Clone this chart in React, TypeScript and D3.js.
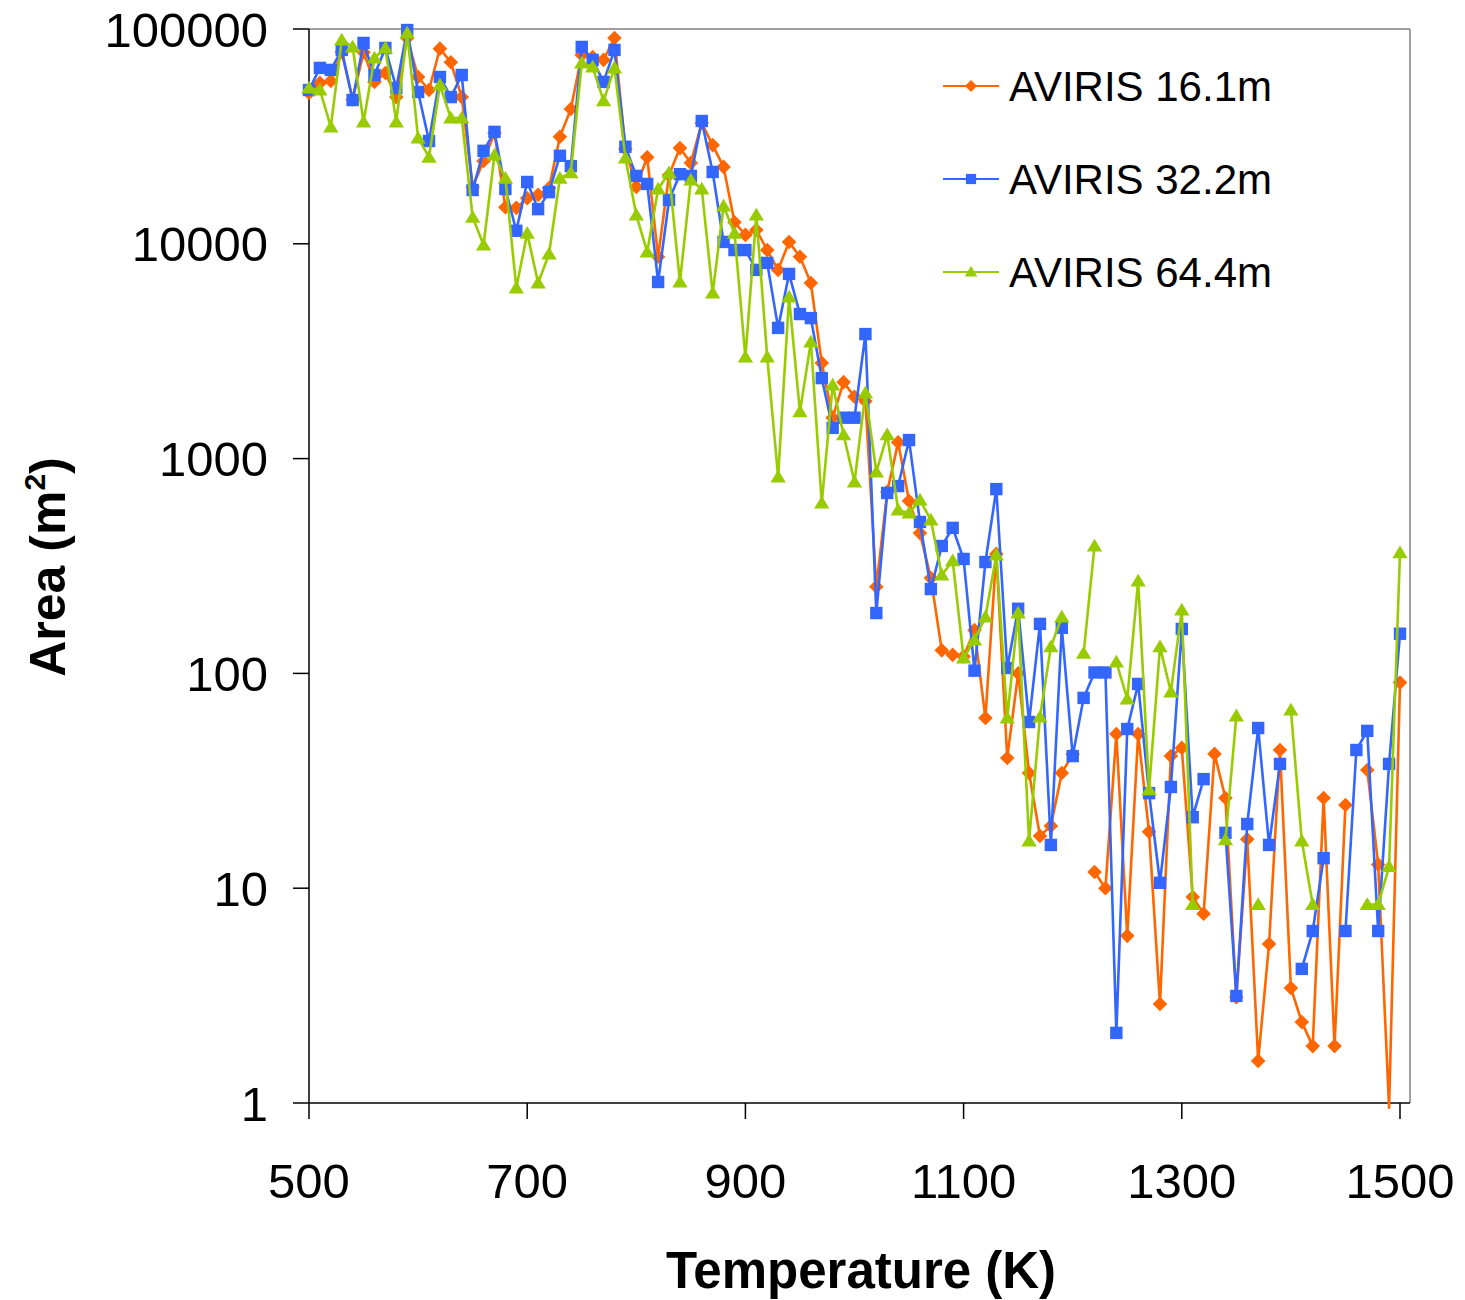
import React from 'react';
import * as d3 from 'd3';

const temperatures = [
  500, 510, 520, 530, 540, 550, 560, 570, 580, 590,
  600, 610, 620, 630, 640, 650, 660, 670, 680, 690,
  700, 710, 720, 730, 740, 750, 760, 770, 780, 790,
  800, 810, 820, 830, 840, 850, 860, 870, 880, 890,
  900, 910, 920, 930, 940, 950, 960, 970, 980, 990,
  1000, 1010, 1020, 1030, 1040, 1050, 1060, 1070, 1080, 1090,
  1100, 1110, 1120, 1130, 1140, 1150, 1160, 1170, 1180, 1190,
  1200, 1210, 1220, 1230, 1240, 1250, 1260, 1270, 1280, 1290,
  1300, 1310, 1320, 1330, 1340, 1350, 1360, 1370, 1380, 1390,
  1400, 1410, 1420, 1430, 1440, 1450, 1460, 1470, 1480, 1490,
  1500,
];

const aviris16 = [
  50400, 56100, 57300, 78000, 47000, 78000, 56700, 62400, 48200, 90800,
  59800, 52000, 81000, 70000, 48200, 18400, 24300, 32800, 14800, 14700,
  16300, 16900, 18200, 31500, 42400, 75700, 74100, 71800, 90800, 27600,
  18400, 25300, 8700, 20900, 27900, 23800, 36500, 28800, 22800, 12600,
  11000, 11600, 9350, 7560, 10200, 8700, 6570, 2790, 1550, 2270,
  1940, 1850, 253, 700, 1190, 635, 450, 278, 128, 122,
  120, 159, 62, 360, 40.4, 100, 34.4, 17.5, 19.5, 34.4,
  42, null, 11.9, 10.0, 52.2, 6.0, 52.2, 18.3, 2.89, 41.2,
  45.0, 9.1, 7.6, 42.2, 26.3, 3.11, 16.9, 1.57, 5.5, 44.0,
  3.43, 2.38, 1.84, 26.3, 1.84, 24.4, null, 35.5, 12.9, 0.95,
  90.6,
];

const aviris32 = [
  52000, 65900, 64500, 79900, 46700, 86100, 61100, 81600, 53100, 98900,
  50900, 30100, 59800, 48200, 61100, 17800, 27100, 33200, 18000, 11500,
  19400, 14500, 17400, 25700, 23000, 82500, 71800, 56700, 79900, 28300,
  20700, 19000, 6640, 16000, 21100, 20700, 37300, 21600, 10200, 9350,
  9350, 7560, 8150, 4060, 7240, 4710, 4510, 2370, 1390, 1550,
  1550, 3800, 191, 692, 745, 1220, 507, 247, 392, 476,
  341, 103, 330, 721, 106, 200, 59.4, 170, 15.9, 163,
  41.2, 76.9, 101, 101, 2.12, 55.1, 89.3, 27.7, 10.6, 29.6,
  161, 21.4, 32.2, null, 18.1, 3.15, 19.9, 55.7, 15.9, 37.9,
  null, 4.21, 6.32, 13.8, null, 6.32, 44.0, 54.0, 6.32, 37.9,
  153,
];

const aviris64 = [
  53100, 52000, 35000, 88900, 82500, 36900, 73300, 81600, 36900, 95800,
  31100, 25300, 54900, 38500, 38500, 13300, 9870, 25900, 20200, 6230,
  11200, 6570, 8970, 20200, 21400, 69500, 66500, 46300, 65900, 25100,
  13600, 9160, 18000, 21400, 6640, 19800, 18000, 5900, 15000, 11200,
  2970, 13600, 2970, 821, 5650, 1650, 3490, 621, 2200, 1290,
  778, 2020, 866, 1290, 576, 558, 642, 518, 287, 334,
  118, 143, 183, 356, 62.0, 191, 16.6, 62.7, 133, 183,
  null, 124, 392, null, 113, 76, 269, 28.7, 133, 82,
  197, 8.4, null, null, 16.8, 63.4, null, 8.4, null, null,
  67.6, 16.6, 8.4, null, null, null, null, 8.4, 8.4, 12.6,
  364,
];

const seriesNames = ['AVIRIS 16.1m', 'AVIRIS 32.2m', 'AVIRIS 64.4m'];
const seriesColors = ['#FF6600', '#3366FF', '#99CC00'];
const seriesMarkers = ['diamond', 'square', 'triangle'];
const seriesValues = [aviris16, aviris32, aviris64];

const xTicks = [500, 700, 900, 1100, 1300, 1500];
const yTicks = [1, 10, 100, 1000, 10000, 100000];

const FONT = '"Liberation Sans", Arial, Helvetica, sans-serif';

function markerPath(kind: string, s: number) {
  if (kind === 'diamond') return `M0,${-s}L${s},0L0,${s}L${-s},0Z`;
  if (kind === 'square') return `M${-s * 0.85},${-s * 0.85}H${s * 0.85}V${s * 0.85}H${-s * 0.85}Z`;
  return `M0,${-s}L${s * 1.05},${s * 0.75}L${-s * 1.05},${s * 0.75}Z`;
}

export default function App() {
  const left = 309, right = 1410, top = 29, bottom = 1103;
  const x = d3.scaleLinear().domain([500, 1500]).range([309, 1400]);
  const y = d3.scaleLog().domain([1, 100000]).range([bottom, top]);

  const line = d3
    .line<[number, number | null]>()
    .defined((d) => d[1] !== null)
    .x((d) => x(d[0]))
    .y((d) => y(d[1] as number));

  const legendRows = [86, 179, 272];

  return (
    <svg
      width={1465}
      height={1300}
      style={{ position: 'absolute', left: 0, top: 0, background: '#fff' }}
      fontFamily={FONT}
    >
      <rect x={0} y={0} width={1465} height={1300} fill="#fff" />
      {/* plot frame */}
      <line x1={left} x2={right} y1={top} y2={top} stroke="#808080" strokeWidth={1.5} />
      <line x1={right} x2={right} y1={top} y2={bottom} stroke="#808080" strokeWidth={1.5} />
      {/* axes */}
      <line x1={left} x2={right} y1={bottom} y2={bottom} stroke="#000" strokeWidth={1.5} />
      <line x1={left} x2={left} y1={top} y2={bottom} stroke="#000" strokeWidth={1.5} />
      {yTicks.map((t) => (
        <g key={'y' + t}>
          <line x1={293} x2={left} y1={y(t)} y2={y(t)} stroke="#000" strokeWidth={1.5} />
          <text x={268} y={y(t)} dy="0.36em" textAnchor="end" fontSize={49}>
            {t}
          </text>
        </g>
      ))}
      {xTicks.map((t) => (
        <g key={'x' + t}>
          <line x1={x(t)} x2={x(t)} y1={bottom} y2={bottom + 16} stroke="#000" strokeWidth={1.5} />
          <text x={x(t)} y={1198} textAnchor="middle" fontSize={49}>
            {t}
          </text>
        </g>
      ))}

      {/* series */}
      {seriesValues.map((vals, si) => {
        const pts: [number, number | null][] = temperatures.map((t, i) => [t, vals[i]]);
        return (
          <g key={'s' + si}>
            <path d={line(pts) || ''} fill="none" stroke={seriesColors[si]} strokeWidth={2.6} strokeLinejoin="round" />
            {pts
              .filter((d) => d[1] !== null && (d[1] as number) >= 1)
              .map((d, i) => (
                <path
                  key={i}
                  transform={`translate(${x(d[0])},${y(d[1] as number)})`}
                  d={markerPath(seriesMarkers[si], 7.3)}
                  fill={seriesColors[si]}
                />
              ))}
          </g>
        );
      })}

      {/* legend */}
      {seriesNames.map((name, i) => (
        <g key={'l' + i}>
          <line x1={943} x2={999} y1={legendRows[i]} y2={legendRows[i]} stroke={seriesColors[i]} strokeWidth={2} />
          <path
            transform={`translate(971,${legendRows[i]})`}
            d={markerPath(seriesMarkers[i], 6)}
            fill={seriesColors[i]}
          />
          <text x={1009} y={legendRows[i]} dy="0.36em" fontSize={42}>
            {name}
          </text>
        </g>
      ))}

      {/* axis titles */}
      <text x={861} y={1288} textAnchor="middle" fontSize={51} fontWeight="bold">
        Temperature (K)
      </text>
      <text
        transform="translate(65,567) rotate(-90)"
        textAnchor="middle"
        fontSize={50}
        fontWeight="bold"
      >
        Area (m
        <tspan fontSize={30} dy={-20}>
          2
        </tspan>
        <tspan dy={20}>)</tspan>
      </text>
    </svg>
  );
}
